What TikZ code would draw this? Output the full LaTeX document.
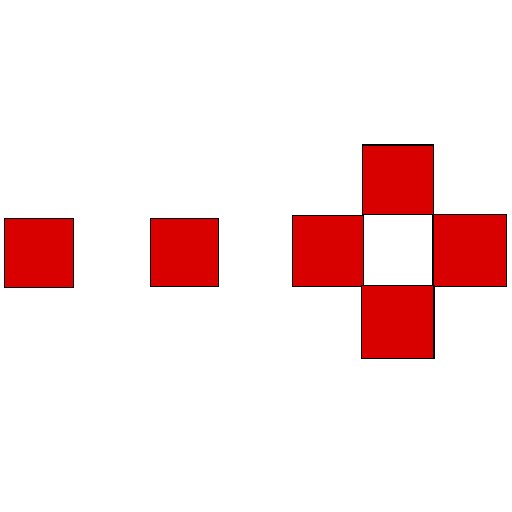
\documentclass[tikz,border=0pt]{standalone}
\usepackage{tikz}
\definecolor{tilered}{HTML}{D90000}
\tikzset{
    tile/.style={fill=tilered, draw=black, line width=0.6pt}
}

\begin{document}
\begin{tikzpicture}[x=0.02cm, y=-0.02cm]
    \useasboundingbox (0,0) rectangle (512,512);
    % single tiles
    \draw[tile] (4.3,218.3) rectangle (73.3,287.3);
    \draw[tile] (150.3,218.3) rectangle (218.3,286.3);
    % cross round the empty middle
    \draw[tile] (362.7,145) rectangle (433.7,214.5);
    \draw[tile] (292.3,215.3) rectangle (363.5,286.7);
    \draw[tile] (433,214.3) rectangle (506.7,286.7);
    \draw[tile] (361.7,285.5) rectangle (434,358.3);
\end{tikzpicture}
\end{document}
